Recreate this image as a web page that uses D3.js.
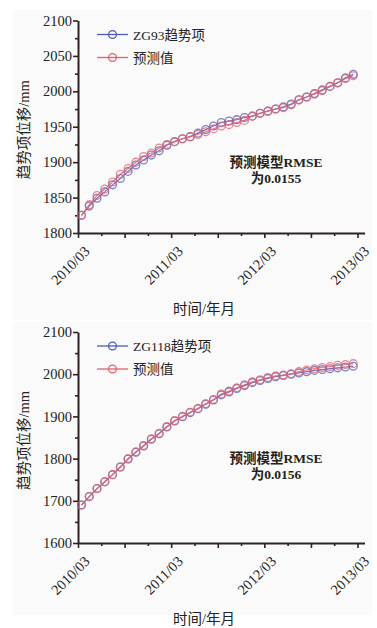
<!DOCTYPE html>
<html>
<head>
<meta charset="utf-8">
<script src="https://cdn.jsdelivr.net/npm/d3@7/dist/d3.min.js"></script>
<style>
  body { margin: 0; background: #fff; }
  text { font-family: "Liberation Serif", "Noto Sans CJK SC", serif; fill: #222; }
</style>
</head>
<body>
<div id="chart"></div>
<script>
// x tick labels (every 12 months, starting 2010/03)
const xTickLabels = ['2010/03', '2011/03', '2012/03', '2013/03'];

// ZG93 - monthly trend term and prediction (mm)
const zg93Trend = [1825, 1838, 1849, 1858, 1868, 1877, 1887, 1896, 1903, 1910, 1916, 1924,
  1929, 1933, 1936, 1941, 1946, 1951, 1956, 1958, 1960, 1963, 1965, 1969,
  1972, 1975, 1978, 1982, 1988, 1992, 1997, 2002, 2007, 2012, 2019, 2024];
const zg93Pred = [1825, 1840, 1853, 1862, 1872, 1883, 1891, 1900, 1908, 1913, 1920, 1925,
  1929, 1933, 1936, 1939, 1943, 1947, 1951, 1953, 1956, 1959, 1965, 1969,
  1972, 1975, 1977, 1981, 1988, 1992, 1996, 2001, 2007, 2012, 2018, 2022];

// ZG118
const zg118Trend = [1690, 1710, 1729, 1745, 1762, 1780, 1799, 1815, 1830, 1846, 1859, 1875,
  1889, 1899, 1909, 1918, 1929, 1939, 1951, 1958, 1966, 1973, 1980, 1985,
  1990, 1994, 1997, 2000, 2003, 2006, 2009, 2011, 2013, 2015, 2017, 2019];
const zg118Pred = [1690, 1710, 1729, 1745, 1762, 1780, 1800, 1816, 1831, 1847, 1860, 1876,
  1890, 1900, 1910, 1919, 1930, 1940, 1953, 1960, 1968, 1975, 1982, 1987,
  1992, 1996, 1998, 2001, 2006, 2010, 2013, 2016, 2018, 2021, 2023, 2025];

const W = 377, H = 628;
const BLUE = '#4c5cb4', RED = '#e2606e', AXIS = '#2e2222';

const svg = d3.select('#chart').append('svg')
  .attr('width', W).attr('height', H);

function drawPanel(cfg) {
  const g = svg.append('g');

  g.append('rect')
    .attr('x', 13).attr('y', cfg.bgTop)
    .attr('width', 359).attr('height', cfg.bgH)
    .attr('fill', '#fafafa');

  const x = d3.scaleLinear().domain([0, 36.9]).range([78, 364.5]);
  const y = d3.scaleLinear().domain(cfg.yDomain).range([cfg.bottom, cfg.top]);

  // x axis
  const xAxis = d3.axisBottom(x)
    .tickValues(d3.range(0, 37, 3))
    .tickSizeOuter(0)
    .tickFormat(d => d % 12 === 0 ? xTickLabels[d / 12] : '');
  const xg = g.append('g').attr('transform', `translate(0,${cfg.bottom})`).call(xAxis);
  xg.select('.domain').attr('stroke', AXIS).attr('stroke-width', 2);
  xg.selectAll('.tick line').attr('stroke', AXIS).attr('stroke-width', 1.6)
    .attr('y2', d => d % 6 === 0 ? 5 : 3);
  xg.selectAll('.tick text')
    .attr('text-anchor', 'end')
    .attr('transform', 'translate(5,12) rotate(-45)')
    .attr('dy', '0.7em').attr('dx', '0')
    .attr('y', 0).attr('x', 0)
    .style('font-size', '14.5px')
    .style('font-family', '"Liberation Serif", serif')
    .attr('fill', '#222');

  // y axis
  const yAxis = d3.axisLeft(y)
    .tickValues(d3.range(cfg.yDomain[0], cfg.yDomain[1] + 1, cfg.minorStep))
    .tickSizeOuter(0)
    .tickFormat(d => (d - cfg.yDomain[0]) % cfg.majorStep === 0 ? d : '');
  const yg = g.append('g').attr('transform', 'translate(78,0)').call(yAxis);
  yg.select('.domain').attr('stroke', AXIS).attr('stroke-width', 2);
  yg.selectAll('.tick line').attr('stroke', AXIS).attr('stroke-width', 1.6)
    .attr('x2', d => (d - cfg.yDomain[0]) % cfg.majorStep === 0 ? -5 : -3);
  yg.selectAll('.tick text')
    .attr('x', -6)
    .style('font-size', '14.5px')
    .style('font-family', '"Liberation Serif", serif')
    .attr('fill', '#222');

  // series
  const line = d3.line()
    .x((d, i) => x(i + 0.45))
    .y(d => y(d));

  [[cfg.trend, BLUE], [cfg.pred, RED]].forEach(([vals, col]) => {
    g.append('path').datum(vals)
      .attr('d', line)
      .attr('fill', 'none')
      .attr('stroke', col)
      .attr('stroke-width', 1.2)
      .attr('opacity', 0.85);
    g.selectAll(null).data(vals).join('circle')
      .attr('cx', (d, i) => x(i + 0.45))
      .attr('cy', d => y(d))
      .attr('r', 3.9)
      .attr('fill', 'none')
      .attr('stroke', col)
      .attr('stroke-width', 1.3)
      .attr('opacity', 0.75);
  });

  // legend
  const legend = [[cfg.name, BLUE], ['预测值', RED]];
  legend.forEach(([label, col], k) => {
    const ly = cfg.top + 14 + k * 23;
    g.append('line')
      .attr('x1', 97).attr('x2', 128).attr('y1', ly).attr('y2', ly)
      .attr('stroke', col).attr('stroke-width', 1.3);
    g.append('circle')
      .attr('cx', 112.5).attr('cy', ly).attr('r', 3.9)
      .attr('fill', 'none').attr('stroke', col).attr('stroke-width', 1.3);
    g.append('text')
      .attr('x', 133).attr('y', ly + 5)
      .style('font-size', '13.5px')
      .text(label);
  });

  // RMSE note
  g.append('text')
    .attr('x', 276).attr('y', cfg.noteY)
    .attr('text-anchor', 'middle')
    .style('font-size', '13.5px').style('font-weight', 'bold')
    .text('预测模型RMSE');
  g.append('text')
    .attr('x', 276).attr('y', cfg.noteY + 16)
    .attr('text-anchor', 'middle')
    .style('font-size', '13.5px').style('font-weight', 'bold')
    .text('为' + cfg.rmse);

  // axis titles
  g.append('text')
    .attr('x', 204).attr('y', cfg.bottom + 81)
    .attr('text-anchor', 'middle')
    .style('font-size', '14.5px')
    .text('时间/年月');
  g.append('text')
    .attr('transform', `translate(29,${(cfg.top + cfg.bottom) / 2 + 3}) rotate(-90)`)
    .attr('text-anchor', 'middle')
    .style('font-size', '14.5px')
    .text('趋势项位移/mm');
}

drawPanel({
  name: 'ZG93趋势项', trend: zg93Trend, pred: zg93Pred,
  yDomain: [1800, 2100], majorStep: 50, minorStep: 25,
  top: 20.5, bottom: 233, bgTop: 10, bgH: 310,
  noteY: 167, rmse: '0.0155'
});

drawPanel({
  name: 'ZG118趋势项', trend: zg118Trend, pred: zg118Pred,
  yDomain: [1600, 2100], majorStep: 100, minorStep: 50,
  top: 332, bottom: 543, bgTop: 322, bgH: 293,
  noteY: 463, rmse: '0.0156'
});
</script>
</body>
</html>
